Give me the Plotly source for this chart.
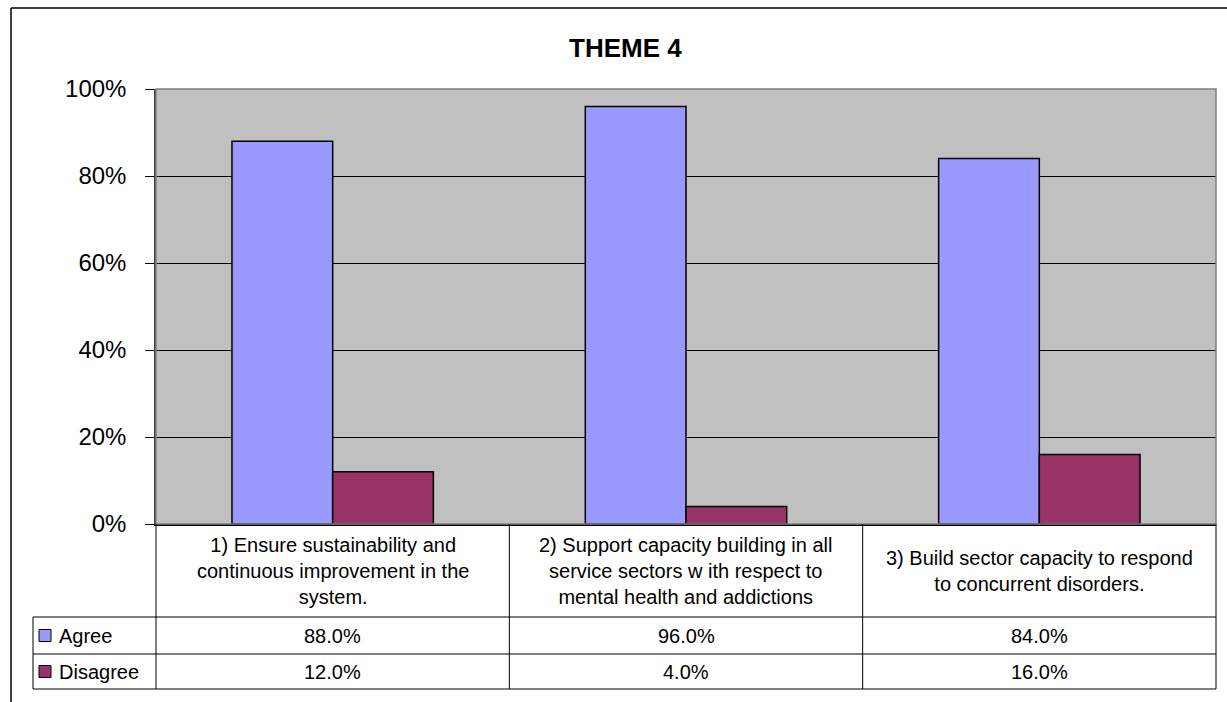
import plotly.graph_objects as go

# ---- data ----
categories = [
    "1) Ensure sustainability and<br>continuous improvement in the<br>system.",
    "2) Support capacity building in all<br>service sectors w ith respect to<br>mental health and addictions",
    "3) Build sector capacity to respond<br>to concurrent disorders.",
]
series_names = ["Agree", "Disagree"]
agree = [0.88, 0.96, 0.84]
disagree = [0.12, 0.04, 0.16]
series_values = [agree, disagree]
series_colors = ["#9999FF", "#993366"]
title_text = "THEME 4"

# ---- layout constants (pixels) ----
W, H = 1227, 702
FONT = "Liberation Sans, Arial, sans-serif"


def px(x):
    return x / W


def py(y):
    return 1 - y / H


PLOT_L, PLOT_R, PLOT_T, PLOT_B = 156, 1216, 89, 524
TABLE_L = 33
ROW1_B, ROW2_B, ROW3_B = 617, 654, 689

fig = go.Figure()
xidx = list(range(len(categories)))
for name, vals, col in zip(series_names, series_values, series_colors):
    fig.add_trace(go.Bar(
        x=xidx, y=vals, name=name,
        marker=dict(color=col, line=dict(color="black", width=1.5)),
        hoverinfo="skip",
    ))

shapes = []
annotations = []

# outer chart frame (top and left)
shapes.append(dict(type="line", xref="paper", yref="paper",
                   x0=px(11), x1=px(1228), y0=py(8), y1=py(8),
                   line=dict(color="black", width=1.5)))
shapes.append(dict(type="line", xref="paper", yref="paper",
                   x0=px(11), x1=px(11), y0=py(8), y1=py(710),
                   line=dict(color="black", width=1.5)))

# plot area border (gray)
shapes.append(dict(type="rect", xref="paper", yref="paper", layer="above",
                   x0=px(PLOT_L), x1=px(PLOT_R), y0=py(PLOT_B), y1=py(PLOT_T),
                   line=dict(color="#808080", width=1.5), fillcolor="rgba(0,0,0,0)"))

# data table lines
LC = "#000000"
LW = 1
for yb in (ROW1_B, ROW2_B, ROW3_B):
    shapes.append(dict(type="line", xref="paper", yref="paper",
                       x0=px(TABLE_L), x1=px(PLOT_R), y0=py(yb), y1=py(yb),
                       line=dict(color=LC, width=LW)))
ncat = len(categories)
for i in range(ncat + 1):
    xx = PLOT_L + (PLOT_R - PLOT_L) * i / ncat
    shapes.append(dict(type="line", xref="paper", yref="paper",
                       x0=px(xx), x1=px(xx), y0=py(PLOT_B), y1=py(ROW3_B),
                       line=dict(color=LC, width=LW)))
shapes.append(dict(type="line", xref="paper", yref="paper",
                   x0=px(TABLE_L), x1=px(TABLE_L), y0=py(ROW1_B), y1=py(ROW3_B),
                   line=dict(color=LC, width=LW)))

TFS = 20
# category labels
for i, c in enumerate(categories):
    annotations.append(dict(x=i, xref="x", y=py((PLOT_B + ROW1_B) / 2), yref="paper",
                            xanchor="center", yanchor="middle",
                            text=c, showarrow=False, align="center",
                            font=dict(family=FONT, size=TFS, color="black")))
# values and legend keys
rows = [(ROW1_B, ROW2_B), (ROW2_B, ROW3_B)]
for (rt, rb), name, vals, col in zip(rows, series_names, series_values, series_colors):
    yc = (rt + rb) / 2
    for i, v in enumerate(vals):
        annotations.append(dict(x=i, xref="x", y=py(yc), yref="paper",
                                xanchor="center", yanchor="middle",
                                text=f"{v*100:.1f}%", showarrow=False,
                                font=dict(family=FONT, size=TFS, color="black")))
    shapes.append(dict(type="rect", xref="paper", yref="paper",
                       x0=px(39), x1=px(51), y0=py(yc - 6), y1=py(yc + 6),
                       fillcolor=col, line=dict(color="black", width=1)))
    annotations.append(dict(x=px(57), xref="paper", y=py(yc), yref="paper",
                            xanchor="left", yanchor="middle",
                            text=name, showarrow=False,
                            font=dict(family=FONT, size=TFS, color="black")))

# title
annotations.append(dict(x=px(625), xref="paper", y=py(48), yref="paper",
                        xanchor="center", yanchor="middle",
                        text=f"<b>{title_text}</b>", showarrow=False,
                        font=dict(family=FONT, size=26, color="black")))

fig.update_layout(
    width=W, height=H,
    margin=dict(l=0, r=0, t=0, b=0, pad=0, autoexpand=False),
    paper_bgcolor="white",
    plot_bgcolor="#C0C0C0",
    barmode="group",
    bargap=0.43,
    bargroupgap=0,
    showlegend=False,
    shapes=shapes,
    annotations=annotations,
    xaxis=dict(domain=[px(PLOT_L), px(PLOT_R)], range=[-0.5, ncat - 0.5],
               automargin=False,
               showticklabels=False, showgrid=False, zeroline=False,
               showline=True, linecolor="black", linewidth=1.5, ticks=""),
    yaxis=dict(domain=[py(PLOT_B), py(PLOT_T)], range=[0, 1],
               automargin=False,
               tickvals=[0, 0.2, 0.4, 0.6, 0.8, 1.0], tickformat=".0%",
               showgrid=True, gridcolor="black", gridwidth=1,
               zeroline=False, showline=True, linecolor="#404040", linewidth=1.5,
               ticks="outside", ticklen=9, tickcolor="black",
               ticklabelstandoff=14,
               tickfont=dict(family=FONT, size=24, color="black")),
)

fig.write_html("out.html")
